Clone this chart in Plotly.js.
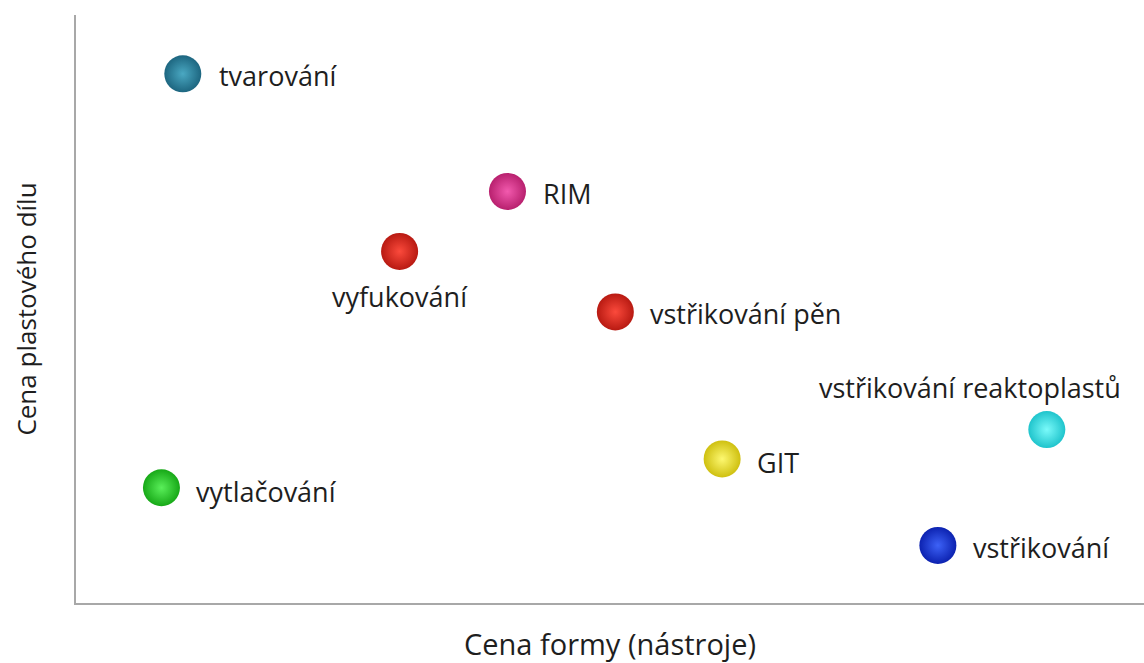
<!DOCTYPE html>
<html>
<head>
<meta charset="utf-8">
<script src="https://cdn.plot.ly/plotly-3.0.1.min.js"></script>
<style>html,body{margin:0;padding:0;background:#fff;}#chart{width:1144px;height:663px;}</style>
</head>
<body>
<div id="chart"></div>
<script>
// Data
const processes = ["tvarování", "RIM", "vyfukování", "vstřikování pěn", "vstřikování reaktoplastů", "GIT", "vytlačování", "vstřikování"];
const moldCost  = [10, 40.4, 30.3, 50.5, 90.9, 60.5, 8, 80.7];
const partCost  = [90, 70, 59.8, 49.5, 29.5, 24.5, 19.6, 9.8];
const xTitle = "Cena formy (nástroje)";
const yTitle = "Cena plastového dílu";

// Styles
const edgeColors = ["#1d6680", "#b8206e", "#b81a12", "#b81a12", "#1fc4cc", "#cfc010", "#17a817", "#0c22b0"];
const lightColors = ["#4aa8c2", "#f25aae", "#fb4a3c", "#fb4a3c", "#7afafa", "#fdf870", "#5aef5a", "#3d62f7"];
// label placement: [xanchor, xshift, yshift]
const labelPlace = [
  ["left", 34, -2],
  ["left", 34, -2],
  ["center", 0, -45],
  ["left", 33, -2],
  ["right", 76, 42],
  ["left", 33, -4],
  ["left", 33, -4],
  ["left", 33, -2]
];

const font = "'Open Sans', 'Noto Sans', sans-serif";

const balls = {
  type: "scatter", mode: "markers", x: moldCost, y: partCost,
  marker: {size: 37, color: edgeColors, line: {width: 0},
           gradient: {type: "radial", color: lightColors}},
  text: processes, hoverinfo: "text", showlegend: false
};

const annotations = processes.map((p, i) => ({
  x: moldCost[i], y: partCost[i], xref: "x", yref: "y",
  text: p, showarrow: false,
  xanchor: labelPlace[i][0], yanchor: "middle",
  xshift: labelPlace[i][1], yshift: labelPlace[i][2],
  font: {family: font, size: 27, color: "#1e1e1e"}
}));

const layout = {
  width: 1144, height: 663,
  margin: {l: 76, r: 0, t: 15, b: 60},
  paper_bgcolor: "#fff", plot_bgcolor: "#fff",
  showlegend: false,
  xaxis: {
    range: [0, 100], showgrid: false, zeroline: false, showticklabels: false, ticks: "",
    showline: true, linecolor: "#a8a8a8", linewidth: 2, fixedrange: true,
    title: {text: xTitle, font: {family: font, size: 29, color: "#1e1e1e"}, standoff: 35}
  },
  yaxis: {
    range: [0, 100], showgrid: false, zeroline: false, showticklabels: false, ticks: "",
    showline: true, linecolor: "#a8a8a8", linewidth: 2, fixedrange: true,
    title: {text: yTitle, font: {family: font, size: 26, color: "#1e1e1e"}, standoff: 30}
  },
  annotations: annotations
};

Plotly.newPlot("chart", [balls], layout, {displayModeBar: false, staticPlot: true});
</script>
</body>
</html>
